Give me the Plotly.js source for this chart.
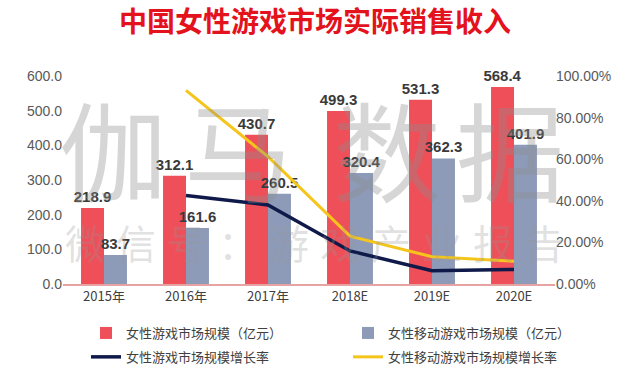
<!DOCTYPE html>
<html><head><meta charset="utf-8">
<script src="https://cdn.plot.ly/plotly-3.0.1.min.js"></script>
<style>html,body{margin:0;padding:0;background:#fff}#c{width:630px;height:373px}</style>
</head><body><div id="c"></div>
<script>
var categories = ['2015年','2016年','2017年','2018E','2019E','2020E'];
var marketSize = [218.9, 312.1, 430.7, 499.3, 531.3, 568.4];
var mobileSize = [83.7, 161.6, 260.5, 320.4, 362.3, 401.9];
var marketGrowth = [null, 0.426, 0.380, 0.159, 0.064, 0.070];
var mobileGrowth = [null, 0.931, 0.612, 0.230, 0.131, 0.109];
var seriesNames = ['女性游戏市场规模（亿元）','女性移动游戏市场规模（亿元）','女性游戏市场规模增长率','女性移动游戏市场规模增长率'];
var leftTicks = [0,100,200,300,400,500,600];
var rightTicks = [0,0.2,0.4,0.6,0.8,1.0];

var CJK = '"Noto Sans CJK SC", "Liberation Sans", sans-serif';
var NUM = '"Liberation Sans", "Noto Sans CJK SC", sans-serif';

var traces = [
 {type:'bar', x:categories, y:marketSize, name:seriesNames[0], marker:{color:'#EF4F58'},
  legend:'legend', legendgroup:'a',
  text:marketSize.map(function(v){return v.toFixed(1);}), textposition:'outside', cliponaxis:false,
  constraintext:'none', textfont:{family:NUM, size:15, color:'#3a3a3a', weight:'bold'}},
 {type:'bar', x:categories, y:mobileSize, name:seriesNames[1], marker:{color:'#8E9BB8'},
  legend:'legend2', legendgroup:'b',
  text:mobileSize.map(function(v){return v.toFixed(1);}), textposition:'outside', cliponaxis:false,
  constraintext:'none', textfont:{family:NUM, size:15, color:'#3a3a3a', weight:'bold'}},
 {type:'scatter', mode:'lines', x:categories, y:marketGrowth, yaxis:'y2', name:seriesNames[2],
  legend:'legend', legendgroup:'c', line:{color:'#0F1A4A', width:3.5}},
 {type:'scatter', mode:'lines', x:categories, y:mobileGrowth, yaxis:'y2', name:seriesNames[3],
  legend:'legend2', legendgroup:'d', line:{color:'#F5C51C', width:3}}
];

function px(x){return (x-63)/492;}
function py(y){return (284-y)/208;}
var ann = [];
var big = [['伽',113],['马',238],['数',387],['据',510]];
big.forEach(function(b){
  ann.push({text:b[0], xref:'paper', yref:'paper', x:px(b[1]), y:py(147), xanchor:'center', yanchor:'middle',
    showarrow:false, font:{family:CJK, size:108, color:'rgba(140,140,140,0.36)'}});
});
var small = '微信号：游戏产业报告'.split('');
small.forEach(function(ch,i){
  ann.push({text:ch, xref:'paper', yref:'paper', x:px(85+51*i), y:py(242), xanchor:'center', yanchor:'middle',
    showarrow:false, font:{family:CJK, size:40, color:'rgba(150,150,150,0.28)'}});
});

function legendAt(xpx){
  return {orientation:'v', xref:'container', yref:'container', x:xpx/630, xanchor:'left',
    y:(373-318)/373, yanchor:'top', traceorder:'grouped', tracegroupgap:4, itemwidth:30,
    font:{family:CJK, size:13, color:'#404040'}, bgcolor:'rgba(0,0,0,0)'};
}

var layout = {
  width:630, height:373,
  margin:{l:63, r:75, t:76, b:89, autoexpand:false},
  paper_bgcolor:'#fff', plot_bgcolor:'rgba(0,0,0,0)',
  title:{text:'<b>中国女性游戏市场实际销售收入</b>', font:{family:CJK, size:28, color:'#E3121C'},
    x:0.5, xanchor:'center', xref:'container', yref:'container', y:(373-22)/373, yanchor:'middle'},
  barmode:'group', bargap:0.44, bargroupgap:0,
  xaxis:{type:'category', showline:true, linecolor:'#E6A3A3', linewidth:1.5, ticks:'', automargin:false,
    tickfont:{family:CJK, size:13, color:'#404040'}, showgrid:false, zeroline:false},
  yaxis:{range:[0,600], tickvals:leftTicks, ticktext:leftTicks.map(function(v){return v.toFixed(1);}),
    showgrid:false, zeroline:false, showline:false, ticks:'', automargin:false,
    tickfont:{family:NUM, size:14, color:'#595959'}},
  yaxis2:{range:[0,1], overlaying:'y', side:'right', tickvals:rightTicks, automargin:false,
    ticktext:rightTicks.map(function(v){return (v*100).toFixed(2)+'%';}),
    showgrid:false, zeroline:false, showline:false, ticks:'',
    tickfont:{family:NUM, size:14, color:'#595959'}},
  showlegend:true,
  legend:legendAt(86),
  legend2:legendAt(348),
  annotations:ann
};
Plotly.newPlot('c', traces, layout, {displayModeBar:false, staticPlot:true});
</script></body></html>
